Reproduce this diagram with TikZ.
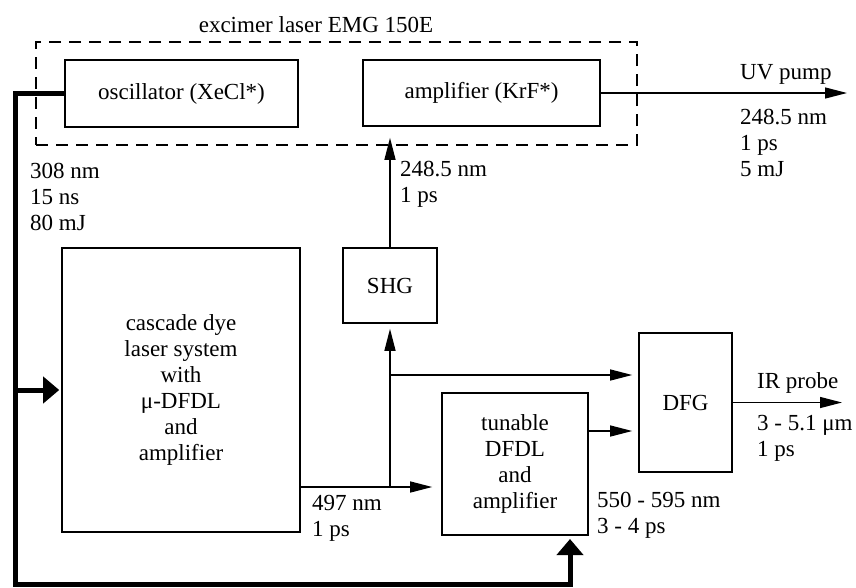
\documentclass[tikz,border=0pt]{standalone}
\usepackage{fontspec}
\setmainfont{Liberation Serif}
\usetikzlibrary{arrows.meta}
\tikzset{
  blk/.style={draw, line width=1.6pt, inner sep=0pt, align=center},
  beam/.style={line width=1.3pt, -{Triangle[length=22pt,width=11pt]}},
  pump/.style={line width=5pt, -{Triangle[length=16pt,width=26pt]}},
  txt/.style={anchor=west, align=left, inner sep=0pt}
}

\begin{document}
\begin{tikzpicture}[x=1pt,y=-1pt,font=\fontsize{23}{26}\selectfont]
\useasboundingbox (0,0) rectangle (856,587);
\node[blk, dashed, dash pattern=on 12pt off 8pt, line width=1.8pt, minimum width=601, minimum height=103] (exc) at (336.5,93.5) {};
\node[inner sep=0pt] (exclbl) at (316,25) {excimer laser EMG 150E};
\node[blk, minimum width=233, minimum height=67] (osc) at (181.5,93.5) {oscillator (XeCl*)};
\node[blk, minimum width=237, minimum height=66] (amp) at (481.5,93) {amplifier (KrF*)};
\node[blk, minimum width=238, minimum height=284] (casc) at (181,390) {cascade dye\\laser system\\with\\μ-DFDL\\and\\amplifier};
\node[blk, minimum width=94, minimum height=75] (shg) at (390,285.5) {SHG};
\node[blk, minimum width=146, minimum height=142] (tun) at (515,464) {tunable\\DFDL\\and\\amplifier};
\node[blk, minimum width=93, minimum height=139] (dfg) at (685.5,402.5) {DFG};
\coordinate (uvend) at (847,93);
\coordinate (irend) at (842,402.5);
\coordinate (split) at (390,487);
\coordinate (fork) at (390,375);
\coordinate (mix) at (588,431);
\coordinate (rail) at (15,584);
\coordinate (tunin) at (570,535);
\draw[beam] (amp.east) -- (uvend);
\draw[beam, shorten >=11pt] (shg.north) -- (shg.north |- amp.south);
\draw[line width=1.3pt] (casc.east |- split) -- (split);
\draw[beam, shorten >=9pt] (split) -- (split -| tun.west);
\draw[beam, shorten >=5pt] (split) -- (shg.south);
\draw[beam, shorten >=6pt] (fork) -- (fork -| dfg.west);
\draw[beam, shorten >=6pt] (mix) -- (mix -| dfg.west);
\draw[beam] (dfg.east) -- (irend);
\draw[pump, shorten >=4pt] (osc.west) -| (rail) -| (tunin);
\draw[pump, shorten >=2pt] (rail |- casc.west) -- (casc.west);
\node[txt] (uvlbl) at (740,74) {UV pump};
\node[txt] (uvdata) at (740,143) {248.5 nm\\1 ps\\5 mJ};
\node[txt] (shgdata) at (400,184) {248.5 nm\\1 ps};
\node[txt] (oscdata) at (30,197) {308 nm\\15 ns\\80 mJ};
\node[txt] (cascdata) at (312,518) {497 nm\\1 ps};
\node[txt] (tundata) at (597,515) {550 - 595 nm\\3 - 4 ps};
\node[txt] (irlbl) at (757,383) {IR probe};
\node[txt] (irdata) at (757,438) {3 - 5.1 μm\\1 ps};
\end{tikzpicture}
\end{document}
